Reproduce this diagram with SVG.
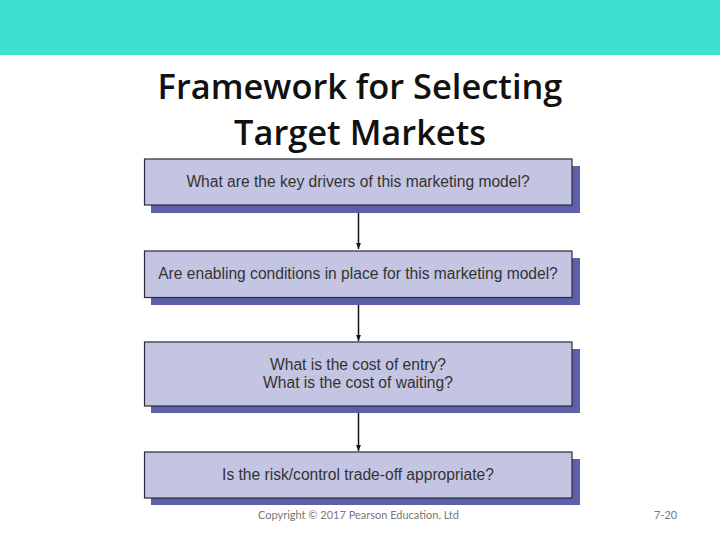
<svg xmlns="http://www.w3.org/2000/svg" width="720" height="540" viewBox="0 0 720 540">
<defs>
<style>
.shadow{fill:#5d60a8}
.box{fill:#c4c5e3;stroke:#2a2a3a;stroke-width:1.2}
.bt{font-family:"Liberation Sans",Arial,sans-serif;font-size:15.6px;fill:#333;text-anchor:middle}
.title{font-family:"Open Sans","Liberation Sans",sans-serif;font-weight:600;font-size:34.4px;fill:#111;text-anchor:middle}
.foot{font-family:Lato,"Open Sans",sans-serif;font-size:11px;fill:#777}
.conn{stroke:#111;stroke-width:1.5;fill:none}
</style>
<marker id="ah" viewBox="0 0 10 10" refX="10" refY="5" markerWidth="6" markerHeight="9" markerUnits="userSpaceOnUse" orient="auto">
<path d="M0,1 L10,5 L0,9 Z" fill="#111"/>
</marker>
</defs>
<rect x="0" y="0" width="720" height="55" fill="#40e0d0"/>
<text class="title" x="360" y="99">Framework for Selecting</text>
<text class="title" x="360" y="145">Target Markets</text>
<g id="connectors">
<path class="conn" d="M358.5,213 V249" marker-end="url(#ah)"/>
<path class="conn" d="M358.5,305 V341" marker-end="url(#ah)"/>
<path class="conn" d="M358.5,413 V451" marker-end="url(#ah)"/>
</g>
<g id="node1">
<rect class="shadow" x="151" y="166" width="429" height="47"/>
<rect class="box" x="144.5" y="159" width="427.5" height="46"/>
<text class="bt" x="358" y="187">What are the key drivers of this marketing model?</text>
</g>
<g id="node2">
<rect class="shadow" x="151" y="258" width="429" height="47"/>
<rect class="box" x="144.5" y="251" width="427.5" height="46.5"/>
<text class="bt" x="358" y="279">Are enabling conditions in place for this marketing model?</text>
</g>
<g id="node3">
<rect class="shadow" x="151" y="349" width="429" height="64"/>
<rect class="box" x="144.5" y="342" width="427.5" height="64"/>
<text class="bt" x="358" y="370">What is the cost of entry?</text>
<text class="bt" x="358" y="388">What is the cost of waiting?</text>
</g>
<g id="node4">
<rect class="shadow" x="151" y="459" width="429" height="46"/>
<rect class="box" x="144.5" y="452" width="427.5" height="46"/>
<text class="bt" x="358" y="480">Is the risk/control trade-off appropriate?</text>
</g>
<text class="foot" x="258" y="519">Copyright © 2017 Pearson Education, Ltd</text>
<text class="foot" x="654" y="519">7-20</text>
</svg>
